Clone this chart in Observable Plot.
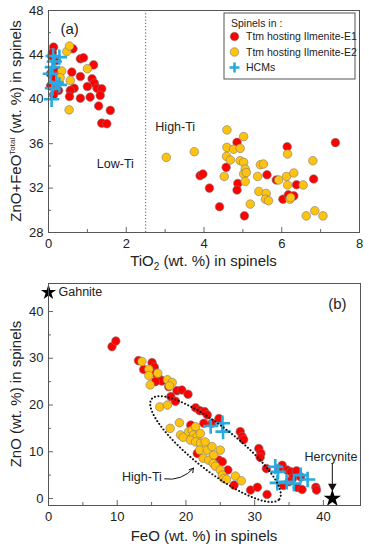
<!DOCTYPE html>
<html>
<head>
<meta charset="utf-8">
<script src="https://cdn.jsdelivr.net/npm/d3@7"></script>
<script src="https://cdn.jsdelivr.net/npm/@observablehq/plot@0.6"></script>
<style>
  html, body { margin: 0; padding: 0; background: #fff; }
  #chart svg { display: block; }
</style>
</head>
<body>
<div id="chart"></div>
<script>
// ---------- Panel (a): TiO2 vs ZnO+FeO(total) ----------
const e1A = [
  [0.13,44.7],[0.63,44.55],[0.82,43.65],[0.9,43.74],[1.16,43.1],[0.6,42.45],[0.82,42.05],[1.12,41.85],
  [1.18,41.45],[1.0,41.15],[1.25,41.0],[1.37,40.95],[0.66,41.0],[0.56,40.8],[0.54,40.25],[0.82,40.1],
  [1.07,40.2],[1.33,40.35],[1.29,39.4],[1.59,39.0],[1.37,37.85],[1.5,37.8],
  [0.2,43.5],[0.17,42.6],[0.2,42.1],[0.15,41.5],[0.05,42.3],[0.26,40.8],[0.08,43.9],[0.1,44.2],
  [0.18,41.8],[0.13,40.4],[0.05,41.2],
  [4.85,36.12],[6.14,35.73],[7.38,36.1],[4.57,33.87],[3.9,33.12],[3.97,33.27],[4.14,32.0],[4.87,32.42],
  [4.85,31.83],[4.4,30.32],[5.04,29.5],[5.62,33.2],[5.86,32.73],[6.03,31.0],[6.17,31.4],[6.31,31.3],
  [6.38,32.3],[6.82,32.82]
];
const e2A = [
  [0.47,44.3],[0.54,44.8],[0.34,42.55],[0.3,41.95],[0.56,41.7],[1.0,42.75],[0.53,39.05],
  [3.03,34.77],[3.75,35.28],[4.59,37.24],[5.02,36.64],[4.59,35.67],[4.76,35.5],[4.93,35.58],[4.58,34.86],
  [4.68,34.53],[4.93,34.47],[5.02,34.32],[5.06,33.72],[5.02,33.27],[5.09,33.4],[5.06,32.6],[4.52,33.05],
  [5.45,34.11],[5.53,34.17],[5.38,33.05],[5.41,31.7],[5.6,31.52],[5.58,31.0],[5.66,30.86],[5.19,30.56],
  [5.92,32.73],[6.12,33.05],[6.31,33.36],[6.15,32.28],[6.15,35.07],[6.55,32.28],[6.21,31.0],[6.23,31.15],
  [6.8,34.47],[6.63,29.5],[6.85,29.96],[7.06,29.5]
];
const hcmA = [
  [0.12,43.9],[0.28,43.8],[0.15,43.4],[0.1,42.9],[0.05,42.3],[0.2,41.5],[0.28,41.3],[0.1,41.0],[0.08,40.0]
];
const xTicksA = [0, 2, 4, 6, 8];
const xMinorA = [1, 3, 5, 7];
const yTicksA = [28, 32, 36, 40, 44, 48];
const yMinorA = [30, 34, 38, 42, 46];
const tiBoundary = [2.5];
const labelsA = [
  {x: 1.72, y: 34.2, text: "Low-Ti"},
  {x: 3.26, y: 37.5, text: "High-Ti"}
];

// ---------- Panel (b): FeO vs ZnO ----------
const e1B = [
  [9.24,32.5],[9.8,33.7],[13.1,29.5],[15.07,29.07],[13.85,27.6],[15.4,28.1],[16.3,25.4],[16.5,25.14],
  [17.5,23.9],[18.7,23.07],[19.4,23.2],[20.3,22.3],[17.8,21.8],[18.47,20.8],[15.6,26.8],[15.55,25.0],
  [21.4,19.4],[22.0,18.8],[22.7,18.6],[23.1,17.9],[24.8,17.1],[23.8,16.1],[20.7,15.7],[22.6,16.1],
  [27.9,14.3],[28.2,13.2],[28.4,12.6],[30.6,10.7],[30.9,9.65],[30.8,8.8],[21.65,9.65],[24.8,8.2],
  [25.3,7.85],[26.1,6.1],[27.0,2.85],[29.4,1.8],[30.4,2.4],[31.8,0.86],[31.7,6.4],[34.0,7.1],
  [34.75,6.07],[35.3,5.7],[36.1,5.9],[35.5,4.3],[36.7,4.6],[35.0,3.6],[36.2,2.36],[36.9,1.93],
  [38.9,2.4],[39.0,1.8],[33.5,6.4],[34.2,2.8]
];
const e2B = [
  [13.6,29.3],[14.6,27.65],[14.6,26.3],[15.9,26.8],[14.8,24.3],[17.3,25.4],[18.0,24.8],[17.6,24.1],
  [16.2,19.6],[17.3,20.0],[17.7,15.0],[19.05,16.2],[19.2,13.6],[19.6,13.1],
  [20.4,14.3],[20.9,14.6],[21.4,15.35],[21.1,13.6],[21.6,13.2],[22.1,13.9],[20.65,12.5],[21.4,12.1],
  [22.1,11.8],[22.8,12.1],[22.0,10.35],[23.1,10.35],[23.8,11.1],[22.5,8.6],[23.3,8.2],[24.05,9.3],
  [25.0,10.35],[23.97,7.5],[24.3,6.9],[25.0,6.1],[25.3,5.0],[25.5,4.3],[25.9,4.1],[27.2,4.8],[28.05,3.8]
];
const hcmB = [
  [23.6,15.5],[25.3,16.1],[25.4,14.3],[33.0,6.8],[33.4,5.7],[33.3,3.35],[34.65,3.56],[35.7,3.2],
  [36.7,5.0],[37.7,4.07]
];
const gahnite = [[0, 44.1]];
const hercynite = [[41.3, 0]];
const xTicksB = [0, 10, 20, 30, 40];
const xMinorB = [5, 15, 25, 35];
const yTicksB = [0, 10, 20, 30, 40];
const yMinorB = [5, 15, 25, 35];
// High-Ti envelope: centre, half major axis, half minor axis (data units)
const envCentre = [24.3, 10.57];
const envMajor = [9.3, -10.7];
const envMinor = [1.97, 3.72];
const highTiArrow = [{x1: 16.9, y1: 4.2, x2: 21.1, y2: 6.5}];
const hercArrow = [{x: 41.3, y1: 7.5, y2: 2.6}];
const labelsB = [
  {x: 13.6, y: 4.5, text: "High-Ti"},
  {x: 41.1, y: 8.9, text: "Hercynite"}
];

// ---------- styling ----------
const FONT = "'Liberation Sans', Arial, Helvetica, sans-serif";
const RED = "#ff0000", YEL = "#ffc20e", CYAN = "#27aae1", DOTSTROKE = "#7a7a7a";
const W = 369, H = 275;

const envelope = d3.range(0, 121).map(i => {
  const t = i / 120 * 2 * Math.PI;
  return [envCentre[0] + Math.cos(t) * envMajor[0] + Math.sin(t) * envMinor[0],
          envCentre[1] + Math.cos(t) * envMajor[1] + Math.sin(t) * envMinor[1]];
});

function axes(xMaj, xMin, yMaj, yMin, innerW, innerH) {
  return [
    Plot.axisX({ticks: xMaj, tickSize: 0, tickPadding: 6, label: null, fontSize: 13}),
    Plot.axisY({ticks: yMaj, tickSize: 0, tickPadding: 5, label: null, fontSize: 13}),
    Plot.tickX(xMaj, {x: d => d, insetTop: innerH - 5, stroke: "#666"}),
    Plot.tickX(xMin, {x: d => d, insetTop: innerH - 3, stroke: "#666"}),
    Plot.tickY(yMaj, {y: d => d, insetRight: innerW - 5, stroke: "#666"}),
    Plot.tickY(yMin, {y: d => d, insetRight: innerW - 3, stroke: "#666"})
  ];
}

const mA = {top: 10, bottom: 43, left: 48, right: 10};
const plotA = Plot.plot({
  width: W, height: H,
  marginTop: mA.top, marginBottom: mA.bottom, marginLeft: mA.left, marginRight: mA.right,
  style: {fontFamily: FONT, fontSize: "13px", color: "#222", background: "#fff", overflow: "visible"},
  x: {domain: [0, 8]},
  y: {domain: [28, 48]},
  marks: [
    ...axes(xTicksA, xMinorA, yTicksA, yMinorA, W - mA.left - mA.right, H - mA.top - mA.bottom),
    Plot.ruleX(tiBoundary, {stroke: "#555", strokeDasharray: "1.2,2", strokeWidth: 1}),
    Plot.dot(e1A, {x: d => d[0], y: d => d[1], r: 4.3, fill: RED, stroke: DOTSTROKE, strokeWidth: 0.6}),
    Plot.dot(e2A, {x: d => d[0], y: d => d[1], r: 4.3, fill: YEL, stroke: DOTSTROKE, strokeWidth: 0.6}),
    Plot.dot(hcmA, {x: d => d[0], y: d => d[1], symbol: "plus", r: 5, stroke: CYAN, strokeWidth: 2.6}),
    Plot.text(labelsA, {x: "x", y: "y", text: "text", fontSize: 12.5, fill: "#222"}),
    Plot.text(["(a)"], {frameAnchor: "top-left", dx: 12, dy: 13, fontSize: 15, fill: "#222"}),
    Plot.frame({stroke: "#555"})
  ]
});

const mB = {top: 8, bottom: 45, left: 48, right: 9};
const plotB = Plot.plot({
  width: W, height: H,
  marginTop: mB.top, marginBottom: mB.bottom, marginLeft: mB.left, marginRight: mB.right,
  style: {fontFamily: FONT, fontSize: "13px", color: "#222", background: "#fff", overflow: "visible"},
  x: {domain: [0, 45.4]},
  y: {domain: [-1.5, 46]},
  marks: [
    ...axes(xTicksB, xMinorB, yTicksB, yMinorB, W - mB.left - mB.right, H - mB.top - mB.bottom),
    Plot.dot(e1B, {x: d => d[0], y: d => d[1], r: 4.3, fill: RED, stroke: DOTSTROKE, strokeWidth: 0.6}),
    Plot.dot(e2B, {x: d => d[0], y: d => d[1], r: 4.3, fill: YEL, stroke: DOTSTROKE, strokeWidth: 0.6}),
    Plot.dot(hcmB, {x: d => d[0], y: d => d[1], symbol: "plus", r: 5, stroke: CYAN, strokeWidth: 2.6}),
    Plot.line(envelope, {x: d => d[0], y: d => d[1], stroke: "#111", strokeWidth: 2, strokeDasharray: "0.1,3.4", strokeLinecap: "round"}),
    Plot.arrow(highTiArrow, {x1: "x1", y1: "y1", x2: "x2", y2: "y2", bend: -30, stroke: "#111", strokeWidth: 1, headLength: 7}),
    Plot.ruleX(hercArrow, {x: "x", y1: "y1", y2: "y2", stroke: "#111", strokeWidth: 1}),
    Plot.dot(hercArrow, {x: "x", y: "y2", symbol: "triangle", rotate: 180, r: 3.2, fill: "#111"}),
    Plot.dot(gahnite, {x: d => d[0], y: d => d[1], symbol: "star", r: 4.8, fill: "#000"}),
    Plot.dot(hercynite, {x: d => d[0], y: d => d[1], symbol: "star", r: 5.5, fill: "#000"}),
    Plot.text(gahnite, {x: d => d[0], y: d => d[1], text: () => "Gahnite", textAnchor: "start", dx: 10, fontSize: 12.5, fill: "#222"}),
    Plot.text(labelsB, {x: "x", y: "y", text: "text", fontSize: 12.5, fill: "#222"}),
    Plot.text(["(b)"], {frameAnchor: "top-right", dx: -14, dy: 15, fontSize: 15, fill: "#222"}),
    Plot.frame({stroke: "#555"})
  ]
});

// ---------- axis titles with sub/superscripts ----------
function addTitles(svg, m, xParts, yParts) {
  const s = d3.select(svg);
  const cx = m.left + (W - m.left - m.right) / 2;
  const cy = m.top + (H - m.top - m.bottom) / 2;
  const xt = s.append("text").attr("x", cx).attr("y", H - 9).attr("text-anchor", "middle")
    .attr("font-family", FONT).attr("font-size", 15).attr("fill", "#222");
  xParts.forEach(p => addPart(xt, p));
  const yt = s.append("text").attr("transform", `translate(21,${cy}) rotate(-90)`).attr("text-anchor", "middle")
    .attr("font-family", FONT).attr("font-size", 15).attr("fill", "#222");
  yParts.forEach(p => addPart(yt, p));
}
function addPart(t, p) {
  if (typeof p === "string") { t.append("tspan").text(p); return; }
  t.append("tspan").attr("font-size", p.size).attr("dy", p.dy).text(p.text);
}
addTitles(plotA, mA,
  ["TiO", {text: "2", size: 10, dy: 4}, {text: " (wt. %) in spinels", size: 15, dy: -4}],
  ["ZnO+FeO", {text: "Total", size: 8, dy: -6}, {text: " (wt. %) in spinels", size: 15, dy: 6}]);
addTitles(plotB, mB, ["FeO (wt. %) in spinels"], ["ZnO (wt. %) in spinels"]);

// ---------- legend (panel a) ----------
(function legend() {
  const s = d3.select(plotA).append("g").attr("font-family", FONT).attr("fill", "#222")
    .attr("text-anchor", "start");
  const lx = 224, ly = 13;
  s.append("rect").attr("x", lx).attr("y", ly).attr("width", 131).attr("height", 66)
    .attr("fill", "#fff").attr("stroke", "#555").attr("stroke-width", 1);
  s.append("text").attr("x", lx + 7).attr("y", ly + 14).attr("font-size", 10.5)
    .attr("text-anchor", "start").text("Spinels in :");
  const items = [
    {label: "Ttm hosting Ilmenite-E1", fill: RED},
    {label: "Ttm hosting Ilmenite-E2", fill: YEL},
    {label: "HCMs", cross: true}
  ];
  items.forEach((it, i) => {
    const y = ly + 23.5 + i * 15.5;
    if (it.cross) {
      s.append("path").attr("d", `M${lx + 5.5},${y}h10M${lx + 10.5},${y - 5}v10`)
        .attr("stroke", CYAN).attr("stroke-width", 2.6).attr("fill", "none");
    } else {
      s.append("circle").attr("cx", lx + 10.5).attr("cy", y).attr("r", 4.3)
        .attr("fill", it.fill).attr("stroke", DOTSTROKE).attr("stroke-width", 0.6);
    }
    s.append("text").attr("x", lx + 22).attr("y", y + 3.6).attr("font-size", 10.5)
      .attr("text-anchor", "start").text(it.label);
  });
})();

document.getElementById("chart").append(plotA, plotB);
</script>
</body>
</html>
